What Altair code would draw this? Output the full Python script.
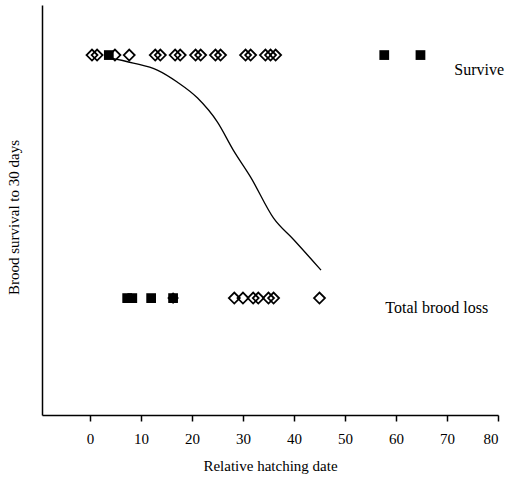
import altair as alt
import pandas as pd

# Data
survive_diamonds = [0.4, 1.4, 4.9, 7.7, 12.8, 13.8, 16.7, 17.7, 20.7, 21.7, 24.6, 25.6,
                    30.5, 31.5, 34.4, 35.4, 36.4]
survive_squares = [3.7, 57.7, 64.8]
loss_squares = [7.3, 8.3, 12.0, 16.3]
loss_diamonds = [28.3, 30.0, 32.0, 33.0, 35.0, 36.0, 45.0]
loss_octagon = [16.3]

curve_x = [3.5, 8.5, 13.2, 17.1, 21.1, 25.0, 28.1, 31.5, 36.0, 40.0, 45.3]
curve_y = [0.99, 0.967, 0.938, 0.889, 0.823, 0.724, 0.609, 0.498, 0.329, 0.239, 0.115]

x_ticks = [0, 10, 20, 30, 40, 50, 60, 70, 80]

rows = []
for v in survive_diamonds:
    rows.append({"date": v, "surv": 1})
for v in loss_diamonds:
    rows.append({"date": v, "surv": 0})
pts_open = pd.DataFrame(rows)

rows = []
for v in survive_squares:
    rows.append({"date": v, "surv": 1})
for v in loss_squares:
    rows.append({"date": v, "surv": 0})
pts_sq = pd.DataFrame(rows)
pts_oct = pd.DataFrame({"date": loss_octagon, "surv": [0] * len(loss_octagon)})
curve = pd.DataFrame({"date": curve_x, "p": curve_y})

FONT = "Liberation Serif"
xscale = alt.Scale(domain=[-9.4, 80], nice=False, zero=False)
yscale = alt.Scale(domain=[-0.481, 1.206], nice=False, zero=False)

xenc = alt.X("date:Q", scale=xscale,
             axis=alt.Axis(title="Relative hatching date", values=x_ticks, grid=False,
                           tickSize=6, tickColor="black", domainColor="black",
                           domainWidth=1.5, tickWidth=1.5, labelPadding=10,
                           labelFont=FONT, labelFontSize=15, labelColor="black",
                           titleFont=FONT, titleFontSize=15, titleFontWeight="normal",
                           titleColor="black", titlePadding=12))
yaxis = alt.Axis(title="Brood survival to 30 days", labels=False, ticks=False, grid=False,
                 domainColor="black", domainWidth=1.5, titleFont=FONT, titleFontSize=15,
                 titleFontWeight="normal", titleColor="black", titlePadding=21,
                 titleY=212)

open_layer = alt.Chart(pts_open).mark_point(shape="diamond", size=120, filled=False,
                                            color="black", strokeWidth=1.8, opacity=1).encode(
    x=xenc, y=alt.Y("surv:Q", scale=yscale, axis=yaxis))
sq_layer = alt.Chart(pts_sq).mark_point(shape="square", size=95, filled=True,
                                        color="black", opacity=1).encode(
    x=alt.X("date:Q", scale=xscale), y=alt.Y("surv:Q", scale=yscale))
oct1 = alt.Chart(pts_oct).mark_point(shape="diamond", size=135, filled=True,
                                     color="black", opacity=1).encode(
    x=alt.X("date:Q", scale=xscale), y=alt.Y("surv:Q", scale=yscale))
line_layer = alt.Chart(curve).mark_line(color="black", strokeWidth=1.3,
                                        interpolate="monotone").encode(
    x=alt.X("date:Q", scale=xscale), y=alt.Y("p:Q", scale=yscale))

lab1 = alt.Chart(pd.DataFrame({"t": ["Survive"]})).mark_text(
    font=FONT, fontSize=16, color="black", align="center", baseline="middle").encode(
    x=alt.datum(76.3), y=alt.datum(0.94), text="t:N")
lab2 = alt.Chart(pd.DataFrame({"t": ["Total brood loss"]})).mark_text(
    font=FONT, fontSize=16, color="black", align="center", baseline="middle").encode(
    x=alt.datum(68.0), y=alt.datum(-0.04), text="t:N")

chart = alt.layer(line_layer, open_layer, sq_layer, oct1, lab1, lab2).properties(
    width=456, height=410,
    autosize=alt.AutoSizeParams(type="none"),
    padding={"left": 42, "top": 5, "right": 11, "bottom": 70},
    background="white",
).configure_view(stroke=None)

chart.save("out.html", embed_options={"renderer": "svg", "actions": False})
